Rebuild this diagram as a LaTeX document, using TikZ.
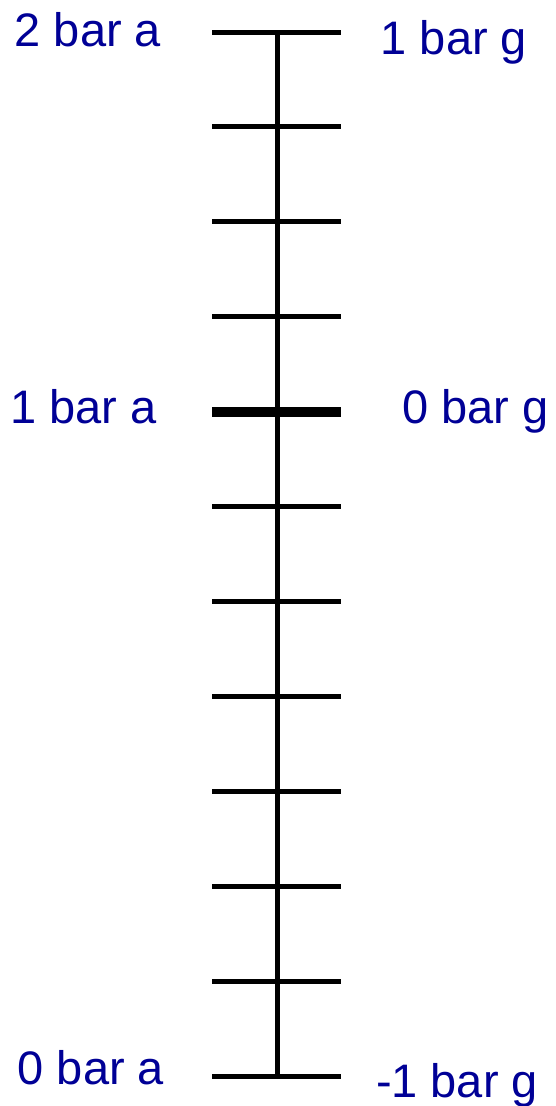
\documentclass[tikz,border=0pt]{standalone}
\usepackage{fontspec}
\setmainfont{Liberation Sans}
\definecolor{lblc}{RGB}{0,0,150}
\begin{document}
\begin{tikzpicture}[x=1pt,y=-1pt,
  lbl/.style={text=lblc, font=\fontsize{47}{50}\selectfont, inner sep=0pt, anchor=base},
  scaleline/.style={line width=5pt, line cap=butt},
  zerotick/.style={line width=10.5pt, line cap=butt}]
\useasboundingbox (0,0) rectangle (555,1106);
\draw[scaleline] (277,32) -- (277,1076);
\foreach \i in {0,...,11} {
  \draw[scaleline] (212,{32+\i*94.909}) -- (341,{32+\i*94.909});
}
\draw[zerotick] (212,412) -- (341,412);
\node[lbl] (a2) at (88,46) {2 bar a};
\node[lbl] (g1) at (454,54) {1 bar g};
\node[lbl] (a1) at (83.5,423) {1 bar a};
\node[lbl] (g0) at (475.5,423) {0 bar g};
\node[lbl] (a0) at (91,1084) {0 bar a};
\node[lbl] (gm1) at (457,1097) {-1 bar g};
\end{tikzpicture}
\end{document}
